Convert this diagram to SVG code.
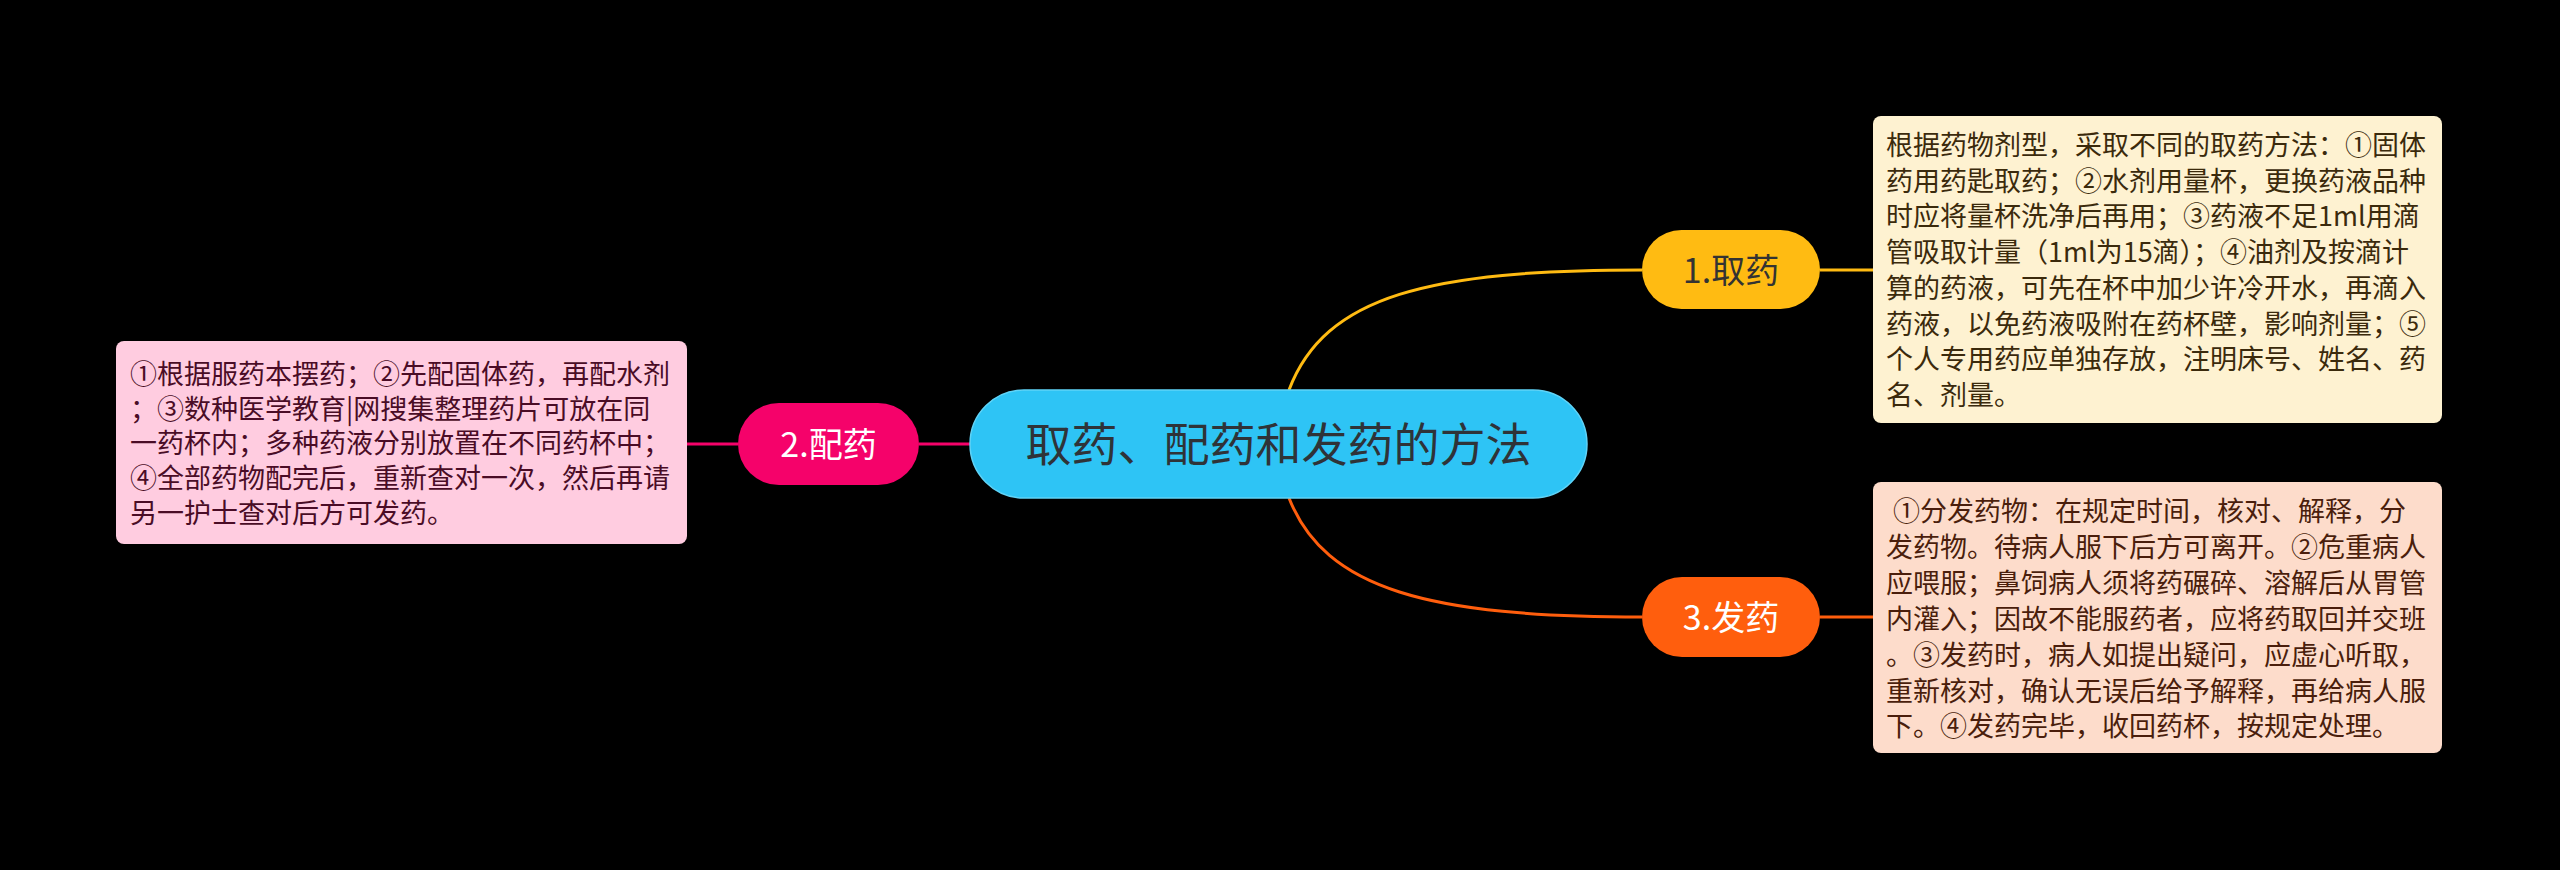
<svg xmlns="http://www.w3.org/2000/svg" width="2560" height="870" viewBox="0 0 2560 870">
<style>
.cjk{font-family:"Noto Sans CJK SC","Noto Sans",sans-serif}
.box{font-size:27px}
.lbl{font-size:34px;text-anchor:middle}
.conn{fill:none;stroke-width:3}
</style>
<rect x="0" y="0" width="2560" height="870" fill="#000000"/>
<g id="connectors">
<path class="conn" stroke="#FFBB12" d="M1289 390 C1325 295 1430 270 1642 270"/>
<path class="conn" stroke="#FFBB12" d="M1820 270 L1873 270"/>
<path class="conn" stroke="#FF5E0D" d="M1289 498 C1325 590 1430 617 1642 617"/>
<path class="conn" stroke="#FF5E0D" d="M1820 617 L1873 617"/>
<path class="conn" stroke="#F5026A" d="M919 444 L970 444"/>
<path class="conn" stroke="#F5026A" d="M687 444 L738 444"/>
</g>
<g id="central">
<rect x="970" y="390" width="617" height="108" rx="54" fill="#2EC4F5" stroke="#5fd3f7" stroke-width="1.5"/>
<text class="cjk" x="1278.5" y="461" font-size="46" text-anchor="middle" fill="#2f3338">取药、配药和发药的方法</text>
</g>
<g id="node1">
<rect x="1642" y="230" width="178" height="79" rx="39.5" fill="#FFBB12"/>
<text class="cjk lbl" x="1731" y="283" fill="#333333">1.取药</text>
</g>
<g id="node2">
<rect x="738" y="403" width="181" height="82" rx="41" fill="#F5026A"/>
<text class="cjk lbl" x="828.5" y="457" fill="#ffffff">2.配药</text>
</g>
<g id="node3">
<rect x="1642" y="577" width="178" height="80" rx="40" fill="#FF5E0D"/>
<text class="cjk lbl" x="1731" y="630" fill="#ffffff">3.发药</text>
</g>
<g id="detail1">
<rect x="1873" y="116" width="569" height="307" rx="8" fill="#FEF2D1"/>
<text class="cjk box" fill="#3b2a0c">
<tspan x="1886" y="155">根据药物剂型，采取不同的取药方法：①固体</tspan>
<tspan x="1886" y="190.7">药用药匙取药；②水剂用量杯，更换药液品种</tspan>
<tspan x="1886" y="226.4">时应将量杯洗净后再用；③药液不足1ml用滴</tspan>
<tspan x="1886" y="262.1">管吸取计量（1ml为15滴）；④油剂及按滴计</tspan>
<tspan x="1886" y="297.8">算的药液，可先在杯中加少许冷开水，再滴入</tspan>
<tspan x="1886" y="333.5">药液，以免药液吸附在药杯壁，影响剂量；⑤</tspan>
<tspan x="1886" y="369.2">个人专用药应单独存放，注明床号、姓名、药</tspan>
<tspan x="1886" y="404.9">名、剂量。</tspan>
</text>
</g>
<g id="detail3">
<rect x="1873" y="482" width="569" height="271" rx="8" fill="#FDDCCB"/>
<text class="cjk box" fill="#4a1e0c">
<tspan x="1893" y="521">①分发药物：在规定时间，核对、解释，分</tspan>
<tspan x="1886" y="556.9">发药物。待病人服下后方可离开。②危重病人</tspan>
<tspan x="1886" y="592.8">应喂服；鼻饲病人须将药碾碎、溶解后从胃管</tspan>
<tspan x="1886" y="628.7">内灌入；因故不能服药者，应将药取回并交班</tspan>
<tspan x="1886" y="664.6">。③发药时，病人如提出疑问，应虚心听取，</tspan>
<tspan x="1886" y="700.5">重新核对，确认无误后给予解释，再给病人服</tspan>
<tspan x="1886" y="736.4">下。④发药完毕，收回药杯，按规定处理。</tspan>
</text>
</g>
<g id="detail2">
<rect x="116" y="341" width="571" height="203" rx="8" fill="#FFCCE0"/>
<text class="cjk box" fill="#4a0c26">
<tspan x="130" y="384">①根据服药本摆药；②先配固体药，再配水剂</tspan>
<tspan x="130" y="418.7">；③数种医学教育|网搜集整理药片可放在同</tspan>
<tspan x="130" y="453.4">一药杯内；多种药液分别放置在不同药杯中；</tspan>
<tspan x="130" y="488.1">④全部药物配完后，重新查对一次，然后再请</tspan>
<tspan x="130" y="522.8">另一护士查对后方可发药。</tspan>
</text>
</g>
</svg>
